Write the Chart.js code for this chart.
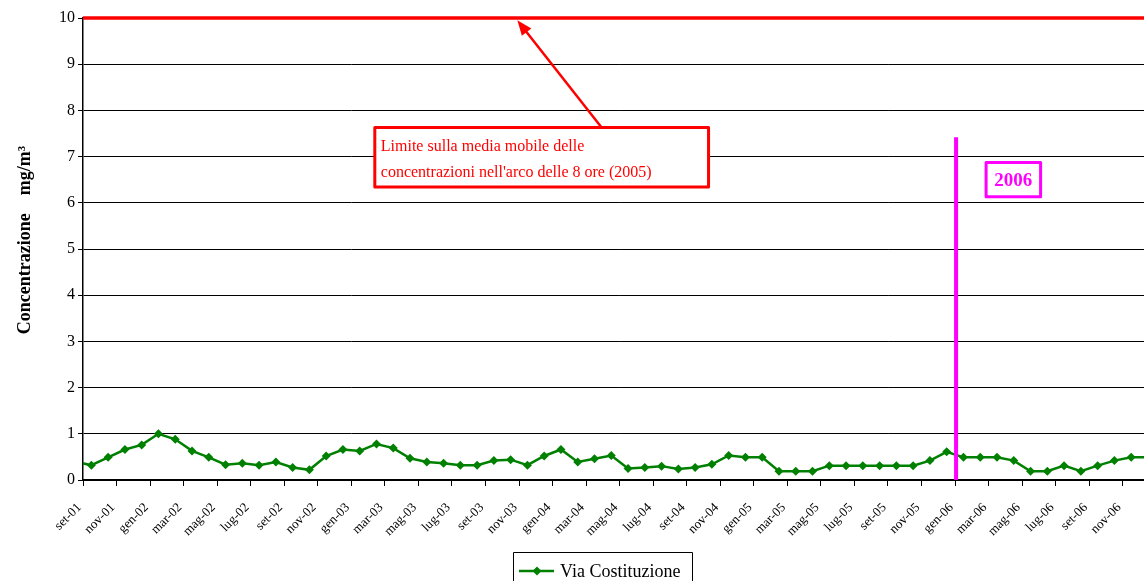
<!DOCTYPE html>
<html>
<head>
<meta charset="utf-8">
<script src="https://cdn.jsdelivr.net/npm/chart.js@4.4.0/dist/chart.umd.min.js"></script>
<style>
  html, body { margin: 0; padding: 0; background: #fff; overflow: hidden; }
  canvas { display: block; }
</style>
</head>
<body>
<canvas id="chart" width="1173" height="581"></canvas>
<script>
// months, the first one (ago-01) only feeds the line stub at the left edge
const months = [
  'ago-01', 'set-01', 'ott-01', 'nov-01', 'dic-01',
  'gen-02', 'feb-02', 'mar-02', 'apr-02', 'mag-02', 'giu-02', 'lug-02', 'ago-02', 'set-02', 'ott-02', 'nov-02', 'dic-02',
  'gen-03', 'feb-03', 'mar-03', 'apr-03', 'mag-03', 'giu-03', 'lug-03', 'ago-03', 'set-03', 'ott-03', 'nov-03', 'dic-03',
  'gen-04', 'feb-04', 'mar-04', 'apr-04', 'mag-04', 'giu-04', 'lug-04', 'ago-04', 'set-04', 'ott-04', 'nov-04', 'dic-04',
  'gen-05', 'feb-05', 'mar-05', 'apr-05', 'mag-05', 'giu-05', 'lug-05', 'ago-05', 'set-05', 'ott-05', 'nov-05', 'dic-05',
  'gen-06', 'feb-06', 'mar-06', 'apr-06', 'mag-06', 'giu-06', 'lug-06', 'ago-06', 'set-06', 'ott-06', 'nov-06', 'dic-06'
];

const viaCostituzione = [
  0.40, 0.32, 0.49, 0.66, 0.76,
  1.00, 0.88, 0.63, 0.49, 0.33, 0.36, 0.32, 0.39, 0.27, 0.22, 0.52, 0.66,
  0.63, 0.78, 0.69, 0.47, 0.39, 0.36, 0.32, 0.32, 0.42, 0.44, 0.32, 0.52,
  0.66, 0.39, 0.46, 0.53, 0.25, 0.27, 0.30, 0.24, 0.27, 0.34, 0.53, 0.49,
  0.49, 0.19, 0.19, 0.19, 0.31, 0.31, 0.31, 0.31, 0.31, 0.31, 0.42, 0.61,
  0.49, 0.49, 0.49, 0.42, 0.19, 0.19, 0.31, 0.19, 0.31, 0.42, 0.49, 0.49
];

const yTicks = [0, 1, 2, 3, 4, 5, 6, 7, 8, 9, 10];
const limite = 10;        // mg/m3, 8h moving average limit (2005)
const startYear = 'gen-06';
const yearLineTop = 7.42;

const serif = '"Liberation Serif", "Times New Roman", serif';
const green = '#008000';
const red = '#ff0000';
const magenta = '#ff00ff';

function drawBox(ctx, x1, y1, x2, y2, color) {
  ctx.fillStyle = '#fff';
  ctx.fillRect(x1, y1, x2 - x1, y2 - y1);
  ctx.strokeStyle = color;
  ctx.lineWidth = 3;
  ctx.lineJoin = 'round';
  ctx.strokeRect(x1, y1, x2 - x1, y2 - y1);
}

const notes = {
  id: 'notes',
  afterDatasetsDraw(chart) {
    const ctx = chart.ctx;
    const x = chart.scales.x;
    const y = chart.scales.y;
    const area = chart.chartArea;
    const px = (i) => x.getPixelForValue(i);
    const py = (v) => y.getPixelForValue(v);
    ctx.save();

    // limit line
    ctx.strokeStyle = red;
    ctx.lineWidth = 3.5;
    ctx.beginPath();
    ctx.moveTo(area.left, py(limite));
    ctx.lineTo(area.right, py(limite));
    ctx.stroke();

    // start of 2006
    const i06 = months.indexOf(startYear);
    const xs = (px(i06) + px(i06 - 1)) / 2 + 1;
    ctx.strokeStyle = magenta;
    ctx.lineWidth = 4;
    ctx.beginPath();
    ctx.moveTo(xs, py(yearLineTop));
    ctx.lineTo(xs, py(0));
    ctx.stroke();

    // arrow to the limit line
    const ax1 = px(31.4), ay1 = py(7.64);
    const ax2 = px(26.4), ay2 = py(9.95);
    const ang = Math.atan2(ay2 - ay1, ax2 - ax1);
    ctx.strokeStyle = red;
    ctx.fillStyle = red;
    ctx.lineWidth = 2.5;
    ctx.beginPath();
    ctx.moveTo(ax1, ay1);
    ctx.lineTo(ax2 - 10 * Math.cos(ang), ay2 - 10 * Math.sin(ang));
    ctx.stroke();
    ctx.beginPath();
    ctx.moveTo(ax2, ay2);
    ctx.lineTo(ax2 - 15 * Math.cos(ang) + 6 * Math.sin(ang), ay2 - 15 * Math.sin(ang) - 6 * Math.cos(ang));
    ctx.lineTo(ax2 - 15 * Math.cos(ang) - 6 * Math.sin(ang), ay2 - 15 * Math.sin(ang) + 6 * Math.cos(ang));
    ctx.closePath();
    ctx.fill();

    // limit note
    const bx1 = px(17.9), bx2 = px(37.8), by1 = py(7.63), by2 = py(6.34);
    drawBox(ctx, bx1, by1, bx2, by2, red);
    ctx.fillStyle = red;
    ctx.font = '16px ' + serif;
    ctx.textAlign = 'left';
    ctx.textBaseline = 'alphabetic';
    ctx.fillText('Limite sulla media mobile delle', bx1 + 6, by1 + 24);
    ctx.fillText("concentrazioni nell'arco delle 8 ore (2005)", bx1 + 6, by1 + 50);

    // year note
    const cx1 = px(54.35), cx2 = px(57.6), cy1 = py(6.87), cy2 = py(6.13);
    drawBox(ctx, cx1, cy1, cx2, cy2, magenta);
    ctx.fillStyle = magenta;
    ctx.font = 'bold 19px ' + serif;
    ctx.textAlign = 'center';
    ctx.textBaseline = 'middle';
    ctx.fillText('2006', (cx1 + cx2) / 2, (cy1 + cy2) / 2 + 1);

    // legend
    const lx = 513, ly = 552;
    ctx.strokeStyle = '#000';
    ctx.lineWidth = 1;
    ctx.strokeRect(lx + 0.5, ly + 0.5, 179, 40);
    ctx.strokeStyle = green;
    ctx.lineWidth = 2.5;
    ctx.beginPath();
    ctx.moveTo(lx + 6, ly + 19);
    ctx.lineTo(lx + 41, ly + 19);
    ctx.stroke();
    ctx.fillStyle = green;
    ctx.beginPath();
    ctx.moveTo(lx + 24, ly + 14.5);
    ctx.lineTo(lx + 28.5, ly + 19);
    ctx.lineTo(lx + 24, ly + 23.5);
    ctx.lineTo(lx + 19.5, ly + 19);
    ctx.closePath();
    ctx.fill();
    ctx.fillStyle = '#000';
    ctx.font = '18px ' + serif;
    ctx.textAlign = 'left';
    ctx.textBaseline = 'alphabetic';
    ctx.fillText('Via Costituzione', lx + 47, ly + 25);

    ctx.restore();
  }
};

new Chart(document.getElementById('chart'), {
  type: 'line',
  data: {
    labels: months,
    datasets: [{
      label: 'Via Costituzione',
      data: viaCostituzione,
      borderColor: green,
      backgroundColor: green,
      borderWidth: 2.5,
      pointStyle: 'rectRot',
      pointRadius: 4.5,
      pointBorderWidth: 0,
      tension: 0
    }]
  },
  options: {
    responsive: false,
    animation: false,
    devicePixelRatio: 1,
    layout: { padding: { top: 18, right: 1, left: 0, bottom: 0 } },
    plugins: {
      legend: { display: false },
      tooltip: { enabled: false }
    },
    scales: {
      x: {
        type: 'category',
        min: 'set-01',
        offset: true,
        afterFit: (s) => { s.height = 101; },
        border: { color: '#000', width: 2 },
        grid: {
          offset: true,
          drawOnChartArea: false,
          drawTicks: true,
          tickLength: 6,
          lineWidth: 1,
          color: (c) => (c.index % 2 === 0 ? '#000' : 'rgba(0,0,0,0)')
        },
        ticks: {
          autoSkip: false,
          minRotation: 45,
          maxRotation: 45,
          padding: 14,
          labelOffset: -12,
          color: '#000',
          font: { family: serif, size: 13 },
          callback: function (val, idx) {
            return idx % 2 === 0 ? this.getLabelForValue(val) : '';
          }
        }
      },
      y: {
        min: yTicks[0],
        max: yTicks[yTicks.length - 1],
        afterFit: (s) => { s.width = 83; },
        afterBuildTicks: (s) => { s.ticks = yTicks.map((v) => ({ value: v })); },
        border: { color: '#000', width: 1.5 },
        grid: {
          color: '#000',
          lineWidth: 1,
          drawTicks: true,
          tickLength: 5
        },
        ticks: {
          padding: 3,
          color: '#000',
          font: { family: serif, size: 16 }
        },
        title: {
          display: true,
          text: '    Concentrazione    mg/m³',
          color: '#000',
          font: { family: serif, size: 18, weight: 'bold' },
          padding: { top: 15, bottom: 0 }
        }
      }
    }
  },
  plugins: [notes]
});
</script>
</body>
</html>
